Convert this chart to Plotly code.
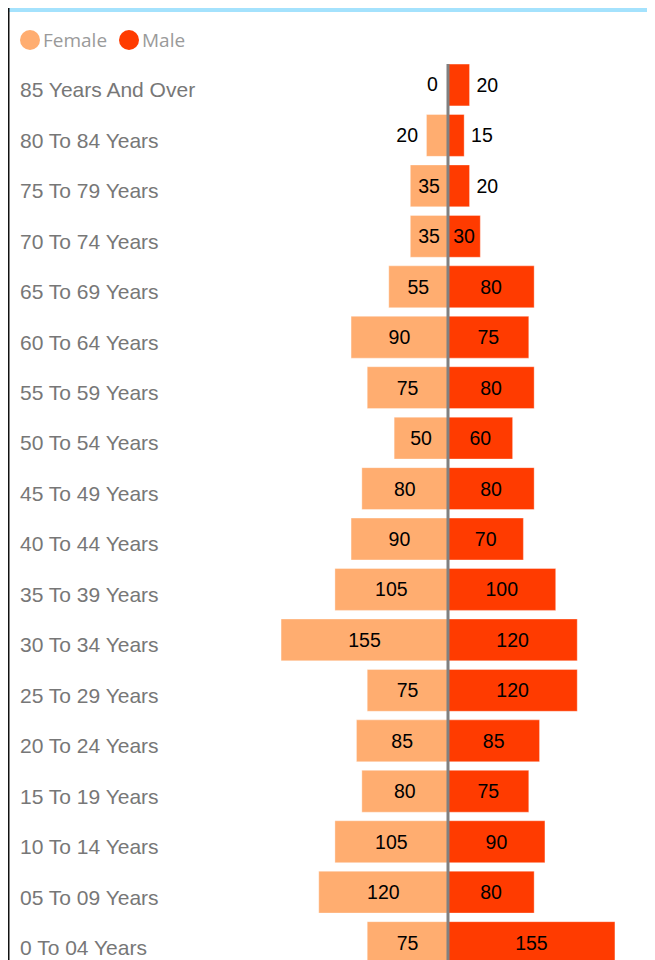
import plotly.graph_objects as go

# ---------------- data ----------------
categories = [
    "85 Years And Over", "80 To 84 Years", "75 To 79 Years", "70 To 74 Years",
    "65 To 69 Years", "60 To 64 Years", "55 To 59 Years", "50 To 54 Years",
    "45 To 49 Years", "40 To 44 Years", "35 To 39 Years", "30 To 34 Years",
    "25 To 29 Years", "20 To 24 Years", "15 To 19 Years", "10 To 14 Years",
    "05 To 09 Years", "0 To 04 Years",
]
female = [0, 20, 35, 35, 55, 90, 75, 50, 80, 90, 105, 155, 75, 85, 80, 105, 120, 75]
male = [20, 15, 20, 30, 80, 75, 80, 60, 80, 70, 100, 120, 120, 85, 75, 90, 80, 155]
series_names = ["Female", "Male"]

# ---------------- layout helpers ----------------
PAGE_OFF = 8            # default body margin of the page
W, H = 647, 952
ML, MR, MT, MB = 2, 5, 56, 0   # plot area: page x 10..650, page y 64..960
PW, PH = W - ML - MR, H - MT - MB
ZERO_PX = 448           # page x of the zero line
SCALE = 1.077           # px per unit


def px_x(x):
    """page pixel x -> paper coordinate"""
    return (x - PAGE_OFF - ML) / PW


def px_y(y):
    """page pixel y -> paper coordinate"""
    return 1 - (y - PAGE_OFF - MT) / PH


FEMALE_COLOR = "#FFAD70"
MALE_COLOR = "#FF3B00"
LABEL_FONT = "Arial, Liberation Sans, sans-serif"
VALUE_SIZE = 19.5


def positions(vals):
    return ["outside" if v < 25 else "inside" for v in vals]


def texts(vals, side):
    out = []
    for v in vals:
        if v == 0:
            out.append("")
        elif v < 25:
            out.append(("\u2009" + str(v)) if side == "right" else (str(v) + "\u00a0"))
        else:
            out.append(str(v))
    return out


fig = go.Figure()
fig.add_trace(go.Bar(
    y=categories, x=[-v for v in female], orientation="h", name=series_names[0],
    marker=dict(color=FEMALE_COLOR, line=dict(width=1, color="rgba(255,255,255,0.35)")),
    text=texts(female, "left"), textposition=positions(female),
    insidetextanchor="middle", cliponaxis=False,
    textfont=dict(family=LABEL_FONT, size=VALUE_SIZE, color="#000000"),
    showlegend=False, hoverinfo="skip",
))
fig.add_trace(go.Bar(
    y=categories, x=male, orientation="h", name=series_names[1],
    marker=dict(color=MALE_COLOR, line=dict(width=1, color="rgba(255,255,255,0.35)")),
    text=texts(male, "right"), textposition=positions(male),
    insidetextanchor="middle", cliponaxis=False,
    textfont=dict(family=LABEL_FONT, size=VALUE_SIZE, color="#000000"),
    showlegend=False, hoverinfo="skip",
))

shapes = [
    # light blue header band
    dict(type="rect", xref="paper", yref="paper",
         x0=px_x(0), x1=px_x(650), y0=px_y(12), y1=px_y(0),
         fillcolor="#A4E2FD", line=dict(width=0), layer="above"),
    # frame lines
    dict(type="line", xref="paper", yref="paper",
         x0=px_x(8.5), x1=px_x(8.5), y0=px_y(0), y1=px_y(962),
         line=dict(color="#111111", width=2)),
    dict(type="line", xref="paper", yref="paper",
         x0=px_x(650.5), x1=px_x(650.5), y0=px_y(12), y1=px_y(962),
         line=dict(color="#111111", width=2)),
    # zero line
    dict(type="line", xref="x", yref="paper", x0=0, x1=0, y0=0, y1=1,
         line=dict(color="#808080", width=3), layer="above"),
    # legend dots
    dict(type="circle", xref="paper", yref="paper",
         x0=px_x(20), x1=px_x(40), y0=px_y(50), y1=px_y(30),
         fillcolor=FEMALE_COLOR, line=dict(width=0)),
    dict(type="circle", xref="paper", yref="paper",
         x0=px_x(119), x1=px_x(139), y0=px_y(50), y1=px_y(30),
         fillcolor=MALE_COLOR, line=dict(width=0)),
]

annotations = [
    dict(text=series_names[0], xref="paper", yref="paper", x=px_x(41), y=px_y(40),
         xanchor="left", yanchor="middle", showarrow=False,
         font=dict(family="Open Sans", size=19, color="#9A9A9A")),
    dict(text=series_names[1], xref="paper", yref="paper", x=px_x(140), y=px_y(40),
         xanchor="left", yanchor="middle", showarrow=False,
         font=dict(family="Open Sans", size=19, color="#9A9A9A")),
]
# labels for zero-length bars (plotly draws no text on an empty bar)
for cat, v in zip(categories, female):
    if v == 0:
        annotations.append(dict(text=str(v), x=0, y=cat, xref="x", yref="y",
                                xanchor="right", yanchor="middle", xshift=-8, yshift=1,
                                showarrow=False,
                                font=dict(family=LABEL_FONT, size=VALUE_SIZE, color="#000000")))
for cat, v in zip(categories, male):
    if v == 0:
        annotations.append(dict(text=str(v), x=0, y=cat, xref="x", yref="y",
                                xanchor="left", yanchor="middle", xshift=8, yshift=1,
                                showarrow=False,
                                font=dict(family=LABEL_FONT, size=VALUE_SIZE, color="#000000")))

fig.update_layout(
    width=W, height=H,
    margin=dict(l=ML, r=MR, t=MT, b=MB, pad=0),
    paper_bgcolor="white", plot_bgcolor="white",
    barmode="relative", bargap=0.17,
    shapes=shapes, annotations=annotations,
    showlegend=False,
    xaxis=dict(
        range=[-(ZERO_PX - PAGE_OFF - ML) / SCALE, (PAGE_OFF + W - MR - ZERO_PX) / SCALE],
        showgrid=False, showticklabels=False, ticks="",
        zeroline=False, fixedrange=True,
    ),
    yaxis=dict(
        type="category", categoryorder="array", categoryarray=categories,
        range=[17.345, -0.416],
        showgrid=False, zeroline=False, showline=False, ticks="",
        ticklabelposition="inside", ticklabelstandoff=7, ticklabelshift=-5,
        tickfont=dict(family=LABEL_FONT, size=21, color="#777777"),
        fixedrange=True,
    ),
)

fig.write_html("out.html")
